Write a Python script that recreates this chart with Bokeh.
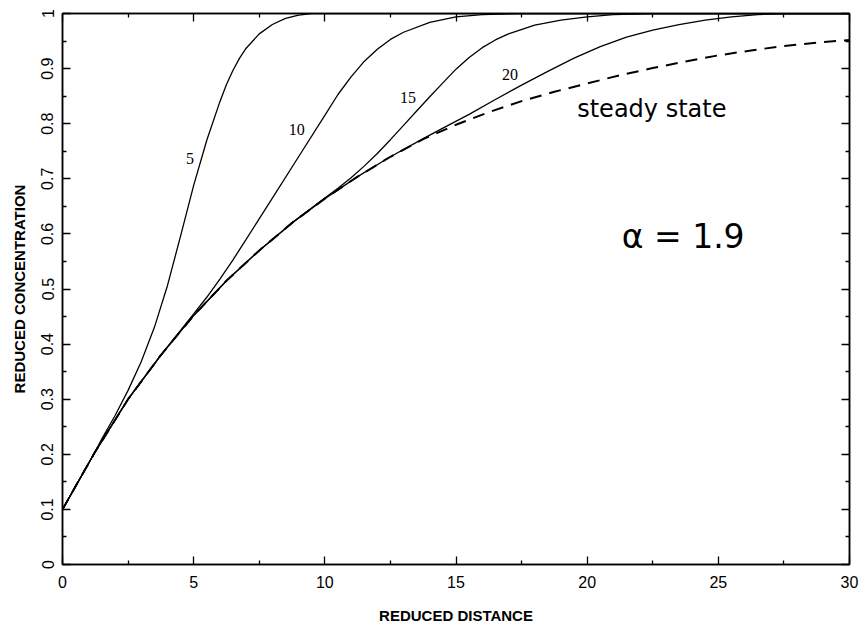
from bokeh.plotting import figure
from bokeh.models import LinearAxis, FixedTicker, Range1d, Label, ColumnDataSource
from bokeh.core.properties import value
from bokeh.embed import file_html
from bokeh.resources import INLINE

# ---- data ----
steady_x = [0, 1.25, 2.5, 3.75, 5, 6.25, 7.5, 8.75, 10, 11.25, 12.5, 13.75, 15,
            16.25, 17.5, 18.75, 20, 21.25, 22.5, 23.75, 25, 26.25, 27.5, 28.75, 30]
steady_y = [0.100, 0.205, 0.300, 0.380, 0.452, 0.515, 0.570, 0.620, 0.664, 0.704,
            0.740, 0.772, 0.798, 0.821, 0.841, 0.858, 0.873, 0.888, 0.901, 0.913,
            0.924, 0.933, 0.941, 0.947, 0.952]

t5_x = [0, 1.25, 1.5, 2.0, 2.5, 3.0, 3.5, 4.0, 4.5, 5.0, 5.5, 6.0, 6.25, 6.5,
        6.75, 7.0, 7.5, 8.0, 8.5, 9.0, 9.5, 10, 30]
t5_y = [0.100, 0.205, 0.228, 0.270, 0.316, 0.368, 0.430, 0.506, 0.596, 0.688,
        0.770, 0.840, 0.871, 0.897, 0.919, 0.937, 0.963, 0.980, 0.991, 0.997,
        1.0, 1.0, 1.0]

t10_x = [0, 1.25, 2.5, 3.75, 4.5, 5.0, 5.5, 6.0, 6.5, 7.0, 8.0, 9.0, 10, 10.5,
         11, 11.5, 12, 12.5, 13, 14, 15, 16, 17.5, 30]
t10_y = [0.100, 0.205, 0.300, 0.380, 0.425, 0.455, 0.485, 0.518, 0.553, 0.590,
         0.665, 0.740, 0.815, 0.853, 0.885, 0.913, 0.935, 0.953, 0.966, 0.984,
         0.994, 0.998, 1.0, 1.0]

t15_x = [0, 1.25, 2.5, 3.75, 5, 6.25, 7.5, 8.75, 10, 10.5, 11, 11.5, 12, 12.5,
         13, 13.5, 14, 14.5, 15, 15.5, 16, 16.5, 17, 18, 19, 20, 21, 22.5, 30]
t15_y = [0.100, 0.205, 0.300, 0.380, 0.452, 0.515, 0.570, 0.620, 0.665, 0.683,
         0.702, 0.723, 0.746, 0.771, 0.797, 0.823, 0.849, 0.874, 0.899, 0.920,
         0.938, 0.952, 0.963, 0.979, 0.988, 0.994, 0.998, 1.0, 1.0]

t20_x = [0, 1.25, 2.5, 3.75, 5, 6.25, 7.5, 8.75, 10, 11.25, 12.5, 13.75, 14.5,
         15.5, 16.5, 17.5, 18.5, 19.5, 20.5, 21.5, 22.5, 23.5, 24.5, 25.5, 26.5,
         27.5, 30]
t20_y = [0.100, 0.205, 0.300, 0.380, 0.452, 0.515, 0.570, 0.620, 0.664, 0.704,
         0.740, 0.773, 0.792, 0.817, 0.844, 0.870, 0.895, 0.919, 0.940, 0.957,
         0.970, 0.980, 0.988, 0.994, 0.998, 1.0, 1.0]

curve_labels = ["5", "10", "15", "20"]
curve_label_x = [4.86, 8.93, 13.17, 17.06]
curve_label_y = [0.737, 0.790, 0.847, 0.890]

x_ticks = [0, 5, 10, 15, 20, 25, 30]
x_minor = [2.5, 7.5, 12.5, 17.5, 22.5, 27.5]
y_ticks = [0, 0.1, 0.2, 0.3, 0.4, 0.5, 0.6, 0.7, 0.8, 0.9, 1.0]
y_tick_labels = ["0", "0.1", "0.2", "0.3", "0.4", "0.5", "0.6", "0.7", "0.8", "0.9", "1"]
y_minor = [0.05, 0.15, 0.25, 0.35, 0.45, 0.55, 0.65, 0.75, 0.85, 0.95]

# ---- figure ----
p = figure(frame_width=787, frame_height=551,
           min_border_left=62, min_border_right=13, min_border_top=13, min_border_bottom=61,
           x_range=Range1d(0, 30), y_range=Range1d(0, 1),
           output_backend="svg", toolbar_location=None,
           x_axis_label="REDUCED DISTANCE", y_axis_label="REDUCED CONCENTRATION")
p.background_fill_color = "white"
p.border_fill_color = "white"
p.grid.visible = False
p.outline_line_color = "black"
p.outline_line_width = 1.5

def style_axis(ax, ticks, minor):
    ax.ticker = FixedTicker(ticks=ticks, minor_ticks=minor)
    ax.axis_line_color = "black"
    ax.axis_line_width = 1.5
    ax.major_tick_in = 8
    ax.major_tick_out = 0
    ax.minor_tick_in = 4
    ax.minor_tick_out = 0
    ax.major_tick_line_color = "black"
    ax.minor_tick_line_color = "black"
    ax.major_tick_line_width = 1.3
    ax.minor_tick_line_width = 1.3
    ax.major_label_text_font = "Liberation Sans"
    ax.major_label_text_font_size = "16px"
    ax.major_label_text_color = "black"
    ax.axis_label_text_font = "Liberation Sans"
    ax.axis_label_text_font_size = "15px"
    ax.axis_label_text_font_style = "bold"
    ax.axis_label_text_color = "black"

xa = p.xaxis[0]
style_axis(xa, x_ticks, x_minor)
xa.major_label_standoff = 11
xa.axis_label_standoff = 16

ya = p.yaxis[0]
style_axis(ya, y_ticks, y_minor)
ya.major_label_overrides = dict(zip(y_ticks, y_tick_labels))
ya.major_label_orientation = "vertical"
ya.major_label_standoff = 9
ya.axis_label_standoff = 11

# mirror axes (ticks only) on the top and right edges
top = LinearAxis()
style_axis(top, x_ticks, x_minor)
top.major_label_text_font_size = "0px"
top.major_label_standoff = 0
p.add_layout(top, "above")

right = LinearAxis()
style_axis(right, y_ticks, y_minor)
right.major_label_text_font_size = "0px"
right.major_label_standoff = 0
p.add_layout(right, "right")

# ---- curves ----
p.line(steady_x, steady_y, line_color="black", line_width=2.0, line_dash="12 8")
for xs, ys in [(t5_x, t5_y), (t10_x, t10_y), (t15_x, t15_y), (t20_x, t20_y)]:
    p.line(xs, ys, line_color="black", line_width=1.3)

src = ColumnDataSource(dict(x=curve_label_x, y=curve_label_y, t=curve_labels))
p.text(x="x", y="y", text="t", source=src, text_font=value("Liberation Serif"),
       text_font_size="16px", text_align="center", text_baseline="middle",
       text_color="black")

p.add_layout(Label(x=19.62, y=0.826, text="steady state", text_font="DejaVu Sans",
                   text_font_size="24px", text_baseline="alphabetic", text_align="left",
                   text_color="black"))
p.add_layout(Label(x=23.66, y=0.5946, text="α = 1.9", text_font="DejaVu Sans",
                   text_font_size="33px", text_baseline="alphabetic", text_align="center",
                   text_color="black"))

open("out.html", "w").write(file_html(p, INLINE))
